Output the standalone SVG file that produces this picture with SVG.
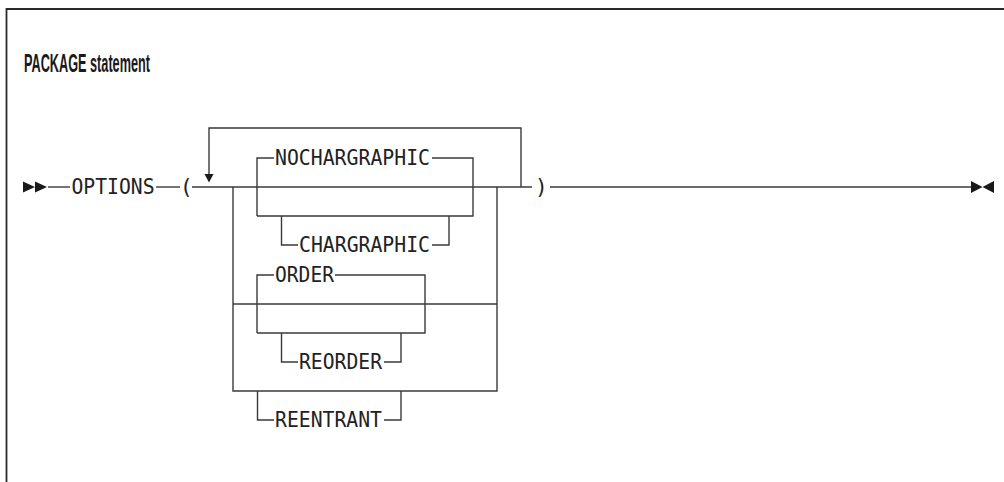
<svg xmlns="http://www.w3.org/2000/svg" width="1004" height="482" viewBox="0 0 1004 482">
<style>
.ln{fill:none;stroke:#3a3a3a;stroke-width:1.4}
.fr{fill:none;stroke:#2a2a2a;stroke-width:1.8}
.t{font-family:"DejaVu Sans Mono","Liberation Mono",monospace;font-size:21px;fill:#222}
.title{font-family:"Liberation Sans",Arial,sans-serif;font-weight:bold;font-size:25px;fill:#1a1a1a}
.ah{fill:#1a1a1a}
</style>
<rect x="0" y="0" width="1004" height="482" fill="#fff"/>
<path class="fr" d="M6.5 482 V9 H1004"/>
<text class="title" x="24" y="72" textLength="126" lengthAdjust="spacingAndGlyphs">PACKAGE statement</text>
<g id="connectors">
  <path class="ln" d="M48 187 H70"/>
  <path class="ln" d="M156 187 H180"/>
  <path class="ln" d="M192 187 H532"/>
  <path class="ln" d="M550 187 H971"/>
  <path class="ln" d="M521 187 V128 H209 V175"/>
  <path class="ln" d="M233 187 V391 H497 V187"/>
  <path class="ln" d="M233 304 H497"/>
</g>
<g id="start"><path class="ah" d="M23 181.5 L35 187 L23 192.5 Z M35 181.5 L47 187 L35 192.5 Z"/></g>
<g id="end"><path class="ah" d="M971 181 L982.5 187 L971 193 Z M994 181 L982.5 187 L994 193 Z"/></g>
<g id="loop-arrow"><path class="ah" d="M204.5 174 L213.5 174 L209 182.5 Z"/></g>
<g id="options"><text class="t" x="71.5" y="194" textLength="83" lengthAdjust="spacingAndGlyphs">OPTIONS</text></g>
<g id="lparen"><text class="t" x="180" y="194">(</text></g>
<g id="rparen"><text class="t" x="535" y="194">)</text></g>
<g id="nochargraphic">
  <path class="ln" d="M257 216 V158 H274 M432 158 H473 V216 H257"/>
  <text class="t" x="275" y="165" textLength="155" lengthAdjust="spacingAndGlyphs">NOCHARGRAPHIC</text>
</g>
<g id="chargraphic">
  <path class="ln" d="M281.5 216 V245 H298 M432 245 H449 V216"/>
  <text class="t" x="299" y="252" textLength="131" lengthAdjust="spacingAndGlyphs">CHARGRAPHIC</text>
</g>
<g id="order">
  <path class="ln" d="M257 333 V275 H274 M335 275 H425 V333 H257"/>
  <text class="t" x="275" y="282" textLength="59" lengthAdjust="spacingAndGlyphs">ORDER</text>
</g>
<g id="reorder">
  <path class="ln" d="M281.5 333 V362 H298 M384 362 H401 V333"/>
  <text class="t" x="299" y="369" textLength="83" lengthAdjust="spacingAndGlyphs">REORDER</text>
</g>
<g id="reentrant">
  <path class="ln" d="M257.5 391 V420 H274 M384 420 H401 V391"/>
  <text class="t" x="275" y="427" textLength="107" lengthAdjust="spacingAndGlyphs">REENTRANT</text>
</g>
</svg>
